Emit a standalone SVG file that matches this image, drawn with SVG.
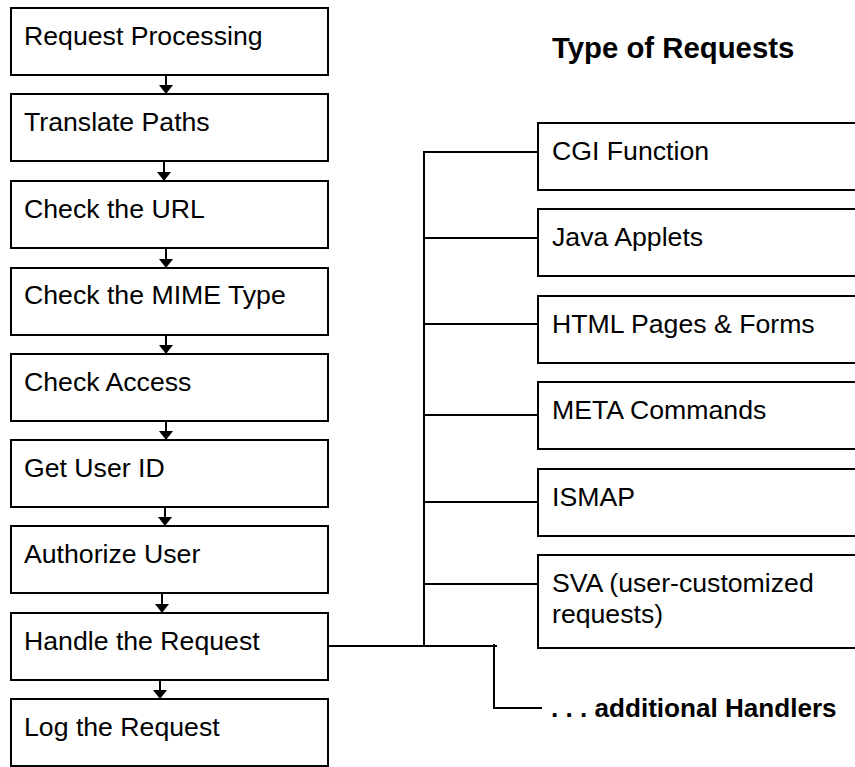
<svg xmlns="http://www.w3.org/2000/svg" width="855" height="767" viewBox="0 0 855 767">
<style>
.box{fill:#fff;stroke:#000;stroke-width:2}
.t{font-family:"Liberation Sans",Arial,sans-serif;font-size:26.67px;fill:#000}
.b{font-weight:bold}
.ln{fill:none;stroke:#000;stroke-width:2}
</style>
<defs>
<marker id="ah" viewBox="0 0 9 14" refX="9" refY="7" markerWidth="9" markerHeight="14" markerUnits="userSpaceOnUse" orient="auto">
<path d="M0,0 L9,7 L0,14 z" fill="#000"/>
</marker>
</defs>
<rect width="855" height="767" fill="#fff"/>
<g id="title"><text class="t b" x="552" y="58" style="font-size:29.33px">Type of Requests</text></g>

<g id="connectors">
<line class="ln" x1="166" y1="75" x2="166" y2="94" marker-end="url(#ah)"/>
<line class="ln" x1="164" y1="161" x2="164" y2="181" marker-end="url(#ah)"/>
<line class="ln" x1="166" y1="248" x2="166" y2="268" marker-end="url(#ah)"/>
<line class="ln" x1="166" y1="335" x2="166" y2="354" marker-end="url(#ah)"/>
<line class="ln" x1="166" y1="421" x2="166" y2="440" marker-end="url(#ah)"/>
<line class="ln" x1="165" y1="507" x2="165" y2="526" marker-end="url(#ah)"/>
<line class="ln" x1="162" y1="593" x2="162" y2="613" marker-end="url(#ah)"/>
<line class="ln" x1="160" y1="680" x2="160" y2="699" marker-end="url(#ah)"/>
<polyline class="ln" points="329,646 497,646"/>
<polyline class="ln" points="538,152 424,152 424,646"/>
<line class="ln" x1="424" y1="238" x2="538" y2="238"/>
<line class="ln" x1="424" y1="324" x2="538" y2="324"/>
<line class="ln" x1="424" y1="415" x2="538" y2="415"/>
<line class="ln" x1="424" y1="502" x2="538" y2="502"/>
<line class="ln" x1="424" y1="584" x2="538" y2="584"/>
<polyline class="ln" points="494,644 494,708 542,708"/>
</g>

<g id="n1"><rect class="box" x="11" y="8" width="317" height="67"/><text class="t" x="24" y="45">Request Processing</text></g>
<g id="n2"><rect class="box" x="11" y="94" width="317" height="67"/><text class="t" x="24" y="131">Translate Paths</text></g>
<g id="n3"><rect class="box" x="11" y="181" width="317" height="67"/><text class="t" x="24" y="218">Check the URL</text></g>
<g id="n4"><rect class="box" x="11" y="268" width="317" height="67"/><text class="t" x="24" y="304">Check the MIME Type</text></g>
<g id="n5"><rect class="box" x="11" y="354" width="317" height="67"/><text class="t" x="24" y="391">Check Access</text></g>
<g id="n6"><rect class="box" x="11" y="440" width="317" height="67"/><text class="t" x="24" y="477">Get User ID</text></g>
<g id="n7"><rect class="box" x="11" y="526" width="317" height="67"/><text class="t" x="24" y="563">Authorize User</text></g>
<g id="n8"><rect class="box" x="11" y="613" width="317" height="67"/><text class="t" x="24" y="650">Handle the Request</text></g>
<g id="n9"><rect class="box" x="11" y="699" width="317" height="67"/><text class="t" x="24" y="736">Log the Request</text></g>

<g id="r1"><rect class="box" x="538" y="123" width="330" height="67"/><text class="t" x="552" y="160">CGI Function</text></g>
<g id="r2"><rect class="box" x="538" y="209" width="330" height="67"/><text class="t" x="552" y="246">Java Applets</text></g>
<g id="r3"><rect class="box" x="538" y="296" width="330" height="67"/><text class="t" x="552" y="333">HTML Pages &amp; Forms</text></g>
<g id="r4"><rect class="box" x="538" y="382" width="330" height="67"/><text class="t" x="552" y="419">META Commands</text></g>
<g id="r5"><rect class="box" x="538" y="469" width="330" height="67"/><text class="t" x="552" y="506">ISMAP</text></g>
<g id="r6"><rect class="box" x="538" y="555" width="330" height="93"/><text class="t" x="552" y="592">SVA (user-customized</text><text class="t" x="552" y="623">requests)</text></g>
<g id="r7"><text class="t b" x="551" y="717" style="font-size:26.1px">. . . additional Handlers</text></g>
</svg>
